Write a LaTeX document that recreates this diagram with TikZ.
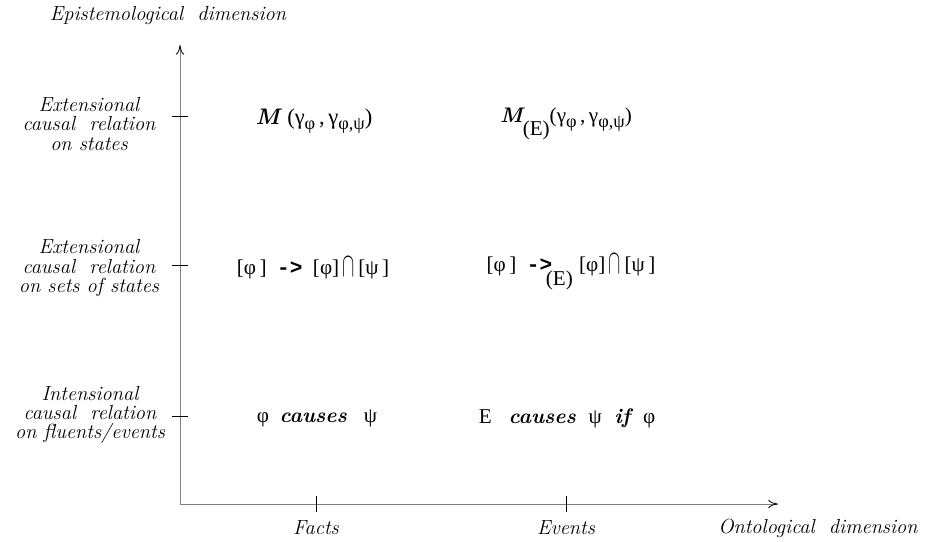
\documentclass[tikz,border=0pt]{standalone}
\usepackage{fontspec}
\newfontfamily\grk{Liberation Serif}
\newfontfamily\monob{Liberation Mono}
\usetikzlibrary{arrows.meta}

\newcommand{\lowsub}[1]{\raisebox{-0.5ex}{\fontsize{13}{13}\selectfont #1}}
\newcommand{\lowE}{\raisebox{-1.5ex}{\grk (E)}}
\newcommand{\tallcap}{\raisebox{-0.15ex}{\scalebox{0.9}[1.7]{$\cap$}}}

\begin{document}
\begin{tikzpicture}[
  x=0.025cm, y=-0.025cm,
  lab/.style={font=\fontsize{14.5}{13.8}\selectfont\itshape, align=center},
  frm/.style={font=\fontsize{15}{17}\selectfont},
  axis/.style={draw=black!50, semithick, -{To[length=7pt,width=6pt,color=black]}},
  tick/.style={draw=black, thin}
]
\useasboundingbox (0,0) rectangle (936,541);

% axes
\coordinate (origin) at (180,504);
\coordinate (ytip) at (180,45);
\coordinate (xtip) at (778,504);
\draw[axis] (origin) -- (ytip);
\draw[axis] (origin) -- (xtip);

% ticks
\foreach \y in {116,265,416} \draw[tick] (172,\y) -- (188,\y);
\foreach \x in {316,566} \draw[tick] (\x,496) -- (\x,512);

% axis labels
\node[lab] (ylab) at (168,15) {Epistemological\ \ dimension};
\node[lab] (facts) at (316,528) {Facts};
\node[lab] (events) at (566,528) {Events};
\node[lab] (xlab) at (818,528) {Ontological\ \ dimension};

% row labels
\node[lab] (lstates) at (89,124) {Extensional\\causal\ \ relation\\on states};
\node[lab] (lsets) at (89,268) {Extensional\\causal\ \ relation\\on sets of states};
\node[lab] (lfluents) at (90,415) {Intensional\\causal\ \ relation\\on fluents/events};

% formulas
\node[frm, font=\fontsize{16}{18}\selectfont] (mfacts) at (314,121) {{\bfseries\itshape M}\,\,{\grk (γ\lowsub{φ}\,,\,γ\lowsub{φ,ψ})}};
\node[frm] (mevents) at (566,124) {{\bfseries\itshape M}\lowE{\grk (γ\lowsub{φ}\,,\,γ\lowsub{φ,ψ})}};
\node[frm] (setfacts) at (313,268) {{\grk [φ\,]}\enspace{\monob\bfseries ->}\enspace{\grk [φ]}\,\tallcap\,{\grk [ψ\,]}};
\node[frm] (setevents) at (571,272) {{\grk [φ\,]}\enspace{\monob\bfseries ->}\hspace{-0.3em}\lowE\hspace{0.3em}{\grk [φ]}\,\tallcap\,{\grk [ψ\,]}};
\node[frm] (causefacts) at (317,418) {{\grk φ}\hspace{0.5em}{\bfseries\itshape causes}\hspace{0.8em}{\grk ψ}};
\node[frm] (causeevents) at (567,418) {{\grk E}\hspace{0.8em}{\bfseries\itshape causes}\hspace{0.6em}{\grk ψ}\hspace{0.6em}{\bfseries\itshape if}\hspace{0.6em}{\grk φ}};
\end{tikzpicture}
\end{document}
